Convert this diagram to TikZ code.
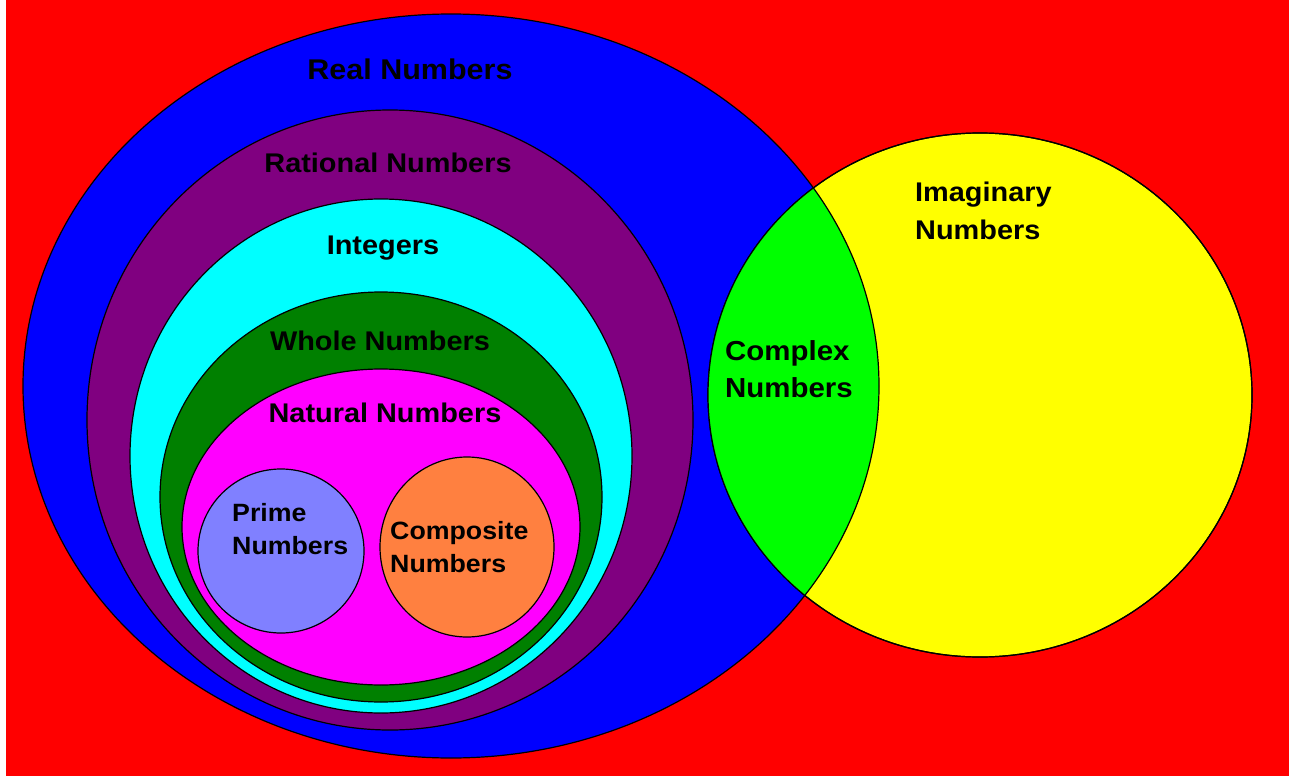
\documentclass[tikz,border=0pt]{standalone}
\usepackage{fontspec}
\setmainfont{Liberation Sans}[FakeStretch=1.07]
\definecolor{bgred}{HTML}{FF0000}
\definecolor{realblue}{HTML}{0000FF}
\definecolor{ratpurple}{HTML}{800080}
\definecolor{intcyan}{HTML}{00FFFF}
\definecolor{wholegreen}{HTML}{008000}
\definecolor{natmagenta}{HTML}{FF00FF}
\definecolor{primeblue}{HTML}{8080FF}
\definecolor{comporange}{HTML}{FF8040}
\definecolor{imagyellow}{HTML}{FFFF00}
\definecolor{complime}{HTML}{00FF00}
\begin{document}
\begin{tikzpicture}[x=1pt,y=-1pt,
  setline/.style={draw=black,line width=1.2pt},
  lbl/.style={font=\fontsize{27}{33}\selectfont\bfseries,inner sep=0pt,text=black},
  smalllbl/.style={lbl,font=\fontsize{25}{33}\selectfont\bfseries}]
\useasboundingbox (0,0) rectangle (1293,776);
\fill[white] (0,0) rectangle (1293,776);
\fill[bgred] (6,0) rectangle (1289,776);
% nested sets
\path[setline,fill=realblue] (451,386) ellipse [x radius=428, y radius=372];
\path[setline,fill=ratpurple] (390,420) ellipse [x radius=303, y radius=310];
\path[setline,fill=intcyan] (381,456) ellipse [x radius=251, y radius=257];
\path[setline,fill=wholegreen] (381,497) ellipse [x radius=221, y radius=205];
\path[setline,fill=natmagenta] (381,527) ellipse [x radius=199, y radius=158];
\path[setline,fill=primeblue] (281,551) ellipse [x radius=83, y radius=82];
\path[setline,fill=comporange] (467,547) ellipse [x radius=87, y radius=90];
% imaginary and complex
\path[setline,fill=imagyellow] (980,395) ellipse [x radius=272, y radius=262];
\begin{scope}
  \clip (980,395) ellipse [x radius=272, y radius=262];
  \fill[complime] (451,386) ellipse [x radius=428, y radius=372];
  \draw[setline] (451,386) ellipse [x radius=428, y radius=372];
\end{scope}
\draw[setline] (980,395) ellipse [x radius=272, y radius=262];
% labels
\node[lbl,anchor=base,font=\fontsize{28.5}{33}\selectfont\bfseries] (real) at (410,80) {Real Numbers};
\node[lbl,anchor=base] (rational) at (388,172) {Rational Numbers};
\node[lbl,anchor=base] (integers) at (383,254) {Integers};
\node[lbl,anchor=base] (whole) at (380,350) {Whole Numbers};
\node[lbl,anchor=base] (natural) at (385,422) {Natural Numbers};
\node[smalllbl,anchor=west,align=left] (prime) at (232,529) {Prime\\Numbers};
\node[smalllbl,anchor=west,align=left] (composite) at (390,547) {Composite\\Numbers};
\node[lbl,anchor=west,align=left,font=\fontsize{27.5}{37}\selectfont\bfseries] (complex) at (725,369) {Complex\\Numbers};
\node[lbl,anchor=west,align=left,font=\fontsize{27}{38}\selectfont\bfseries] (imaginary) at (915,211) {Imaginary\\Numbers};
\end{tikzpicture}
\end{document}
